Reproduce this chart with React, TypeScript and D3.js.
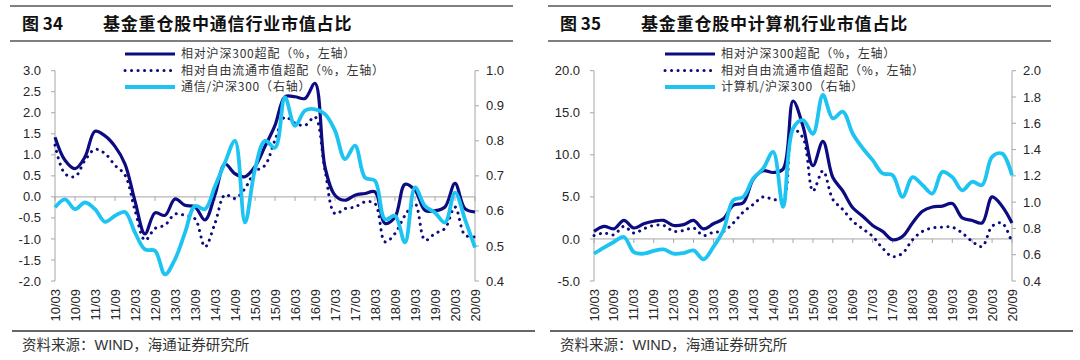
import React from 'react';
import * as d3 from 'd3';

// quarterly report dates, 2010Q1 .. 2020Q3
const quarters = [
  '10/03', '10/06', '10/09', '10/12', '11/03', '11/06', '11/09', '11/12',
  '12/03', '12/06', '12/09', '12/12', '13/03', '13/06', '13/09', '13/12',
  '14/03', '14/06', '14/09', '14/12', '15/03', '15/06', '15/09', '15/12',
  '16/03', '16/06', '16/09', '16/12', '17/03', '17/06', '17/09', '17/12',
  '18/03', '18/06', '18/09', '18/12', '19/03', '19/06', '19/09', '19/12',
  '20/03', '20/06', '20/09',
];
const xLabels = quarters.filter(q => q.endsWith('03') || q.endsWith('09'));

// 图34 通信
const telecomOverHs300 = [
  1.42, 0.87, 0.67, 0.95, 1.56, 1.45, 1.2, 0.78, -0.1, -0.88, -0.38, -0.44, -0.05, -0.2, -0.24, -0.55,
  0.05, 0.78, 0.55, 0.48, 0.72, 1.2, 1.7, 2.38, 2.38, 2.34, 2.7, 0.71, 0.04, -0.08, 0.04, 0.08,
  0.12, -0.63, -0.48, 0.3, 0.16, -0.32, -0.33, -0.24, 0.32, -0.28, -0.36,
];
const telecomOverFree = [
  1.23, 0.55, 0.48, 0.87, 1.13, 1.03, 0.75, 0.52, -0.32, -1.03, -0.75, -0.67, -0.41, -0.44, -0.52, -1.19,
  -0.63, 0.05, -0.04, 0.2, 0.6, 0.75, 1.35, 1.9, 1.75, 1.7, 1.9, 0.63, -0.4, -0.28, -0.24, -0.12,
  -0.16, -1.07, -0.87, -0.44, -0.16, -1.03, -0.87, -0.75, -0.24, -0.91, -0.95,
];
const telecomRatio = [
  0.61, 0.633, 0.605, 0.624, 0.605, 0.569, 0.586, 0.597, 0.538, 0.49, 0.486, 0.419, 0.462, 0.538, 0.614, 0.605,
  0.67, 0.738, 0.8, 0.567, 0.719, 0.8, 0.78, 0.924, 0.843, 0.886, 0.89, 0.876, 0.829, 0.748, 0.786, 0.695,
  0.686, 0.576, 0.586, 0.51, 0.667, 0.614, 0.595, 0.567, 0.652, 0.576, 0.495,
];

// 图35 计算机
const computerOverHs300 = [
  0.9, 1.5, 1.2, 2.2, 1.3, 1.8, 2.1, 2.2, 1.6, 1.7, 2.2, 1.2, 1.8, 2.4, 4.0, 4.3,
  7.1, 8.1, 7.9, 8.3, 16.4, 13.4, 8.7, 11.6, 7.3, 5.7, 3.7, 2.7, 1.6, 0.9, -0.1, 0.3,
  1.9, 3.3, 3.8, 3.9, 4.2, 2.5, 2.2, 1.9, 5.0, 3.9, 1.9,
];
const computerOverFree = [
  0.4, 0.7, 0.5, 1.5, 0.7, 1.2, 1.6, 1.6, 0.9, 1.0, 1.3, 0.4, 0.8, 0.9, 1.9, 3.2,
  4.1, 5.0, 4.7, 4.7, 13.0, 12.0, 5.7, 8.1, 4.7, 3.5, 2.1, 1.2, 0.3, -1.1, -2.1, -1.7,
  -0.1, 0.9, 1.3, 1.4, 1.4, 0.7, -0.3, -0.9, 1.5, 1.9, -0.5,
];
const computerRatio = [
  0.608, 0.654, 0.697, 0.735, 0.62, 0.608, 0.63, 0.64, 0.608, 0.613, 0.633, 0.565, 0.66, 0.786, 1.015, 1.04,
  1.18, 1.256, 1.383, 0.964, 1.56, 1.624, 1.52, 1.815, 1.637, 1.688, 1.52, 1.41, 1.32, 1.218, 1.205, 1.04,
  1.19, 1.13, 1.065, 1.23, 1.19, 1.09, 1.155, 1.13, 1.345, 1.37, 1.205,
];

const leftTicks34 = [-2, -1.5, -1, -0.5, 0, 0.5, 1, 1.5, 2, 2.5, 3];
const rightTicks34 = [0.4, 0.5, 0.6, 0.7, 0.8, 0.9, 1.0];
const leftTicks35 = [-5, 0, 5, 10, 15, 20];
const rightTicks35 = [0.4, 0.6, 0.8, 1.0, 1.2, 1.4, 1.6, 1.8, 2.0];

const NAVY = '#0c0c80';
const CYAN = '#1dc4f2';
const AXIS = '#a6a6a6';
const TXT = '#262626';
const CJK = '"Noto Sans CJK SC", sans-serif';
const LAT = '"Liberation Sans", Arial, sans-serif';

const fmt = d3.formatLocale({ decimal: '.', thousands: ',', grouping: [3], currency: ['', ''], minus: '-' }).format('.1f');

function Panel(props) {
  const { ox, num, title, legend, a, b, c, lDomain, rDomain, lTicks, rTicks, plot, legendX } = props;
  const x = d3.scalePoint().domain(quarters).range([plot.l, plot.r]);
  const yL = d3.scaleLinear().domain(lDomain).range([plot.b, plot.t]);
  const yR = d3.scaleLinear().domain(rDomain).range([plot.b, plot.t]);
  const curve = d3.curveCatmullRom.alpha(0.5);
  const lineL = d3.line().x((d, i) => x(quarters[i])).y(d => yL(d)).curve(curve);
  const lineR = d3.line().x((d, i) => x(quarters[i])).y(d => yR(d)).curve(curve);
  const y0 = yL(0);

  const legendRows = [
    { label: legend[0], stroke: NAVY, w: 3.2, dash: null },
    { label: legend[1], stroke: NAVY, w: 3, dash: '0.1 6.4' },
    { label: legend[2], stroke: CYAN, w: 3.8, dash: null },
  ];

  return (
    <g>
      <line x1={ox} x2={ox + 503} y1={6} y2={6} stroke="#555" strokeWidth={1.5} />
      <line x1={ox} x2={ox + 503} y1={41} y2={41} stroke="#555" strokeWidth={1.5} />
      <text x={ox + 12} y={30} fontFamily={CJK} fontWeight={700} fontSize={17} fill="#111">{num}</text>
      <text x={ox + 93} y={30} fontFamily={CJK} fontWeight={700} fontSize={17} letterSpacing={0.8} fill="#111">{title}</text>

      {/* left axis */}
      <line x1={plot.l} x2={plot.l} y1={plot.t} y2={plot.b} stroke={AXIS} />
      {lTicks.map(t => (
        <g key={'l' + t} transform={`translate(${plot.l},${yL(t)})`}>
          <line x1={-4} x2={0} stroke={AXIS} />
          <text x={-14} dy="0.35em" textAnchor="end" fontFamily={LAT} fontSize={13} fill={TXT}>{fmt(t)}</text>
        </g>
      ))}
      {/* right axis */}
      <line x1={plot.r} x2={plot.r} y1={plot.t} y2={plot.b} stroke={AXIS} />
      {rTicks.map(t => (
        <g key={'r' + t} transform={`translate(${plot.r},${yR(t)})`}>
          <line x1={0} x2={4} stroke={AXIS} />
          <text x={11} dy="0.35em" textAnchor="start" fontFamily={LAT} fontSize={13} fill={TXT}>{fmt(t)}</text>
        </g>
      ))}
      {/* x axis at zero */}
      <line x1={plot.l} x2={plot.r} y1={y0} y2={y0} stroke={AXIS} />
      {xLabels.map(q => (
        <g key={q}>
          <line x1={x(q)} x2={x(q)} y1={y0} y2={y0 + 4} stroke={AXIS} />
          <text transform={`translate(${x(q)},${plot.b + 8}) rotate(-90)`} dy="0.35em" textAnchor="end"
            fontFamily={LAT} fontSize={13} fill={TXT}>{q}</text>
        </g>
      ))}

      <path d={lineL(a)} fill="none" stroke={NAVY} strokeWidth={3.2} strokeLinejoin="round" />
      <path d={lineL(b)} fill="none" stroke={NAVY} strokeWidth={3} strokeDasharray="0.1 6.4" strokeLinecap="round" />
      <path d={lineR(c)} fill="none" stroke={CYAN} strokeWidth={3.8} strokeLinejoin="round" />

      {legendRows.map((r, i) => (
        <g key={i} transform={`translate(${legendX},${54 + i * 16.5})`}>
          <line x1={0} x2={50} stroke={r.stroke} strokeWidth={r.w} strokeDasharray={r.dash || undefined}
            strokeLinecap={r.dash ? 'round' : 'butt'} />
          <text x={56} dy="0.35em" fontFamily={CJK} fontSize={12} letterSpacing={0.8} fill="#333">{r.label}</text>
        </g>
      ))}

      <line x1={ox + 2} x2={ox + 525} y1={331} y2={331} stroke="#333" strokeWidth={1.5} />
      <text x={ox + 12} y={350} fontFamily={CJK} fontSize={14.5} fill="#333">资料来源：<tspan fontFamily={LAT}>WIND</tspan>，海通证券研究所</text>
    </g>
  );
}

export default function App() {
  return (
    <svg width={1080} height={360} style={{ position: 'absolute', left: 0, top: 0, background: '#fff' }}>
      <rect width={1080} height={360} fill="#fff" />
      <Panel ox={10} num="图 34" title="基金重仓股中通信行业市值占比"
        legend={['相对沪深300超配（%，左轴）', '相对自由流通市值超配（%，左轴）', '通信/沪深300（右轴）']}
        a={telecomOverHs300} b={telecomOverFree} c={telecomRatio}
        lDomain={[-2, 3]} rDomain={[0.4, 1.0]} lTicks={leftTicks34} rTicks={rightTicks34}
        plot={{ l: 55, r: 475, t: 70.7, b: 281 }} legendX={125} />
      <Panel ox={548} num="图 35" title="基金重仓股中计算机行业市值占比"
        legend={['相对沪深300超配（%，左轴）', '相对自由流通市值超配（%，左轴）', '计算机/沪深300（右轴）']}
        a={computerOverHs300} b={computerOverFree} c={computerRatio}
        lDomain={[-5, 20]} rDomain={[0.4, 2.0]} lTicks={leftTicks35} rTicks={rightTicks35}
        plot={{ l: 594, r: 1012, t: 70.7, b: 281 }} legendX={665} />
    </svg>
  );
}
